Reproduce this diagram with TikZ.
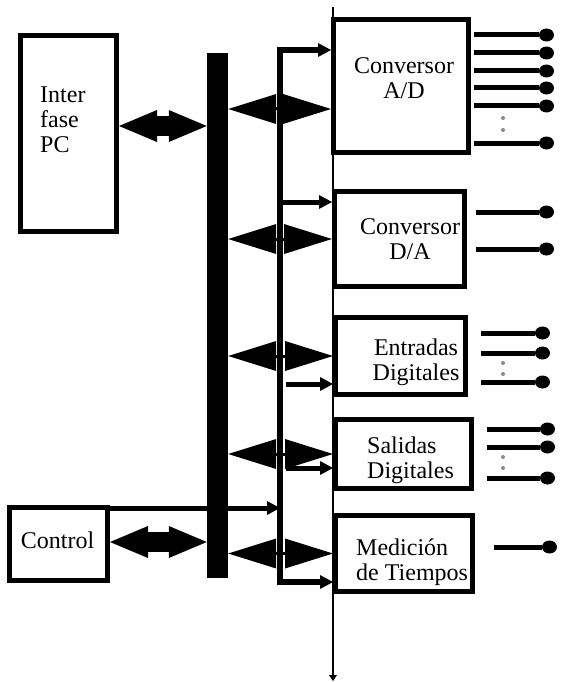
\documentclass[tikz,border=0pt]{standalone}
\usepackage{fontspec}
\setmainfont{Liberation Serif}
\usetikzlibrary{arrows.meta}
\definecolor{dotgray}{RGB}{140,140,140}

\begin{document}
\begin{tikzpicture}[x=1pt,y=-1pt]
	\tikzstyle{blk} = [draw,line width=5pt,fill=white,inner sep=0pt];
	\tikzstyle{txt} = [font=\fontsize{24}{25}\selectfont,inner sep=0pt];
	\tikzstyle{busbar} = [fill=black,inner sep=0pt,minimum width=21pt,minimum height=525pt];
	\tikzstyle{fat} = [line width=20pt,{Triangle[length=38pt,width=32pt,line width=0pt]}-{Triangle[length=38pt,width=32pt,line width=0pt]}];
	\tikzstyle{dbl} = [line width=3pt,{Triangle[length=48pt,width=30pt,line width=0pt]}-{Triangle[length=48pt,width=30pt,line width=0pt]}];
	\tikzstyle{sgl} = [line width=5pt,-{Triangle[length=13pt,width=14pt,line width=0pt]}];
	\tikzstyle{ctlline} = [line width=5.5pt,line join=miter,{Triangle[length=13pt,width=14pt,line width=0pt]}-{Triangle[length=13pt,width=14pt,line width=0pt]}];
	\tikzstyle{axis} = [line width=1.3pt,-{Triangle[length=6pt,width=8pt,line width=0pt]}];
	\tikzstyle{pin} = [line width=5pt,-{Circle[length=15pt,width=13pt,line width=0pt]}];
	\useasboundingbox [fill=white] (0,0) rectangle (560,682);
	% vertical axis
	\coordinate (atop) at (333,7);
	\coordinate (abot) at (333,681);
	\draw [axis] (atop) -- (abot);
	% blocks
	\node [blk,minimum width=96pt,minimum height=196pt] (pc) at (68.5,133.5) {};
	\node [blk,minimum width=98pt,minimum height=73pt] (ctl) at (58.5,544) {};
	\node [blk,minimum width=135pt,minimum height=133pt] (ad) at (401,86) {};
	\node [blk,minimum width=130pt,minimum height=95pt] (da) at (399.5,239) {};
	\node [blk,minimum width=130pt,minimum height=77pt] (ent) at (400.5,356) {};
	\node [blk,minimum width=136pt,minimum height=69pt] (sal) at (403.5,454) {};
	\node [blk,minimum width=137pt,minimum height=76pt] (med) at (404,553.5) {};
	\node [busbar] (bus) at (217.5,315.5) {};
	% texts
	\node [txt,align=left,anchor=west] (pctxt) at (40,120) {Inter\\fase\\PC};
	\node [txt] (ctltxt) at (57.5,540) {Control};
	\node [txt,align=center] (adtxt) at (404,78.6) {Conversor\\A/D};
	\node [txt,align=center] (datxt) at (410,239.6) {Conversor\\D/A};
	\node [txt,align=center] (enttxt) at (416,362) {Entradas\\Digitales};
	\node [txt,align=left,anchor=west] (saltxt) at (367,460) {Salidas\\Digitales};
	\node [txt,align=left,anchor=west] (medtxt) at (356,562) {Medici\'on\\ de Tiempos};
	% control line
	\coordinate (ctop) at (280,50);
	\coordinate (cbot) at (280,582);
	\draw [ctlline] (ad.west |- ctop) -- (ctop) -- (cbot) -- (med.west |- cbot);
	\coordinate (dain) at ([yshift=37pt]da.west);
	\draw [sgl] (ctop |- dain) -- (dain);
	\coordinate (entin) at ([yshift=-28pt]ent.west);
	\draw [sgl] ([xshift=-47pt]entin) -- (entin);
	\coordinate (salin) at ([yshift=-14pt]sal.west);
	\draw [sgl] ([xshift=-47pt]salin) -- (salin);
	\coordinate (ctlout) at ([yshift=-3pt]ctl.north east);
	\draw [sgl] (ctlout) -- (ctlout -| ctop);
	\node [busbar] at (bus) {};
	% data arrows
	\coordinate (pcout) at ([yshift=7.5pt]pc.east);
	\draw [fat] (pcout) -- (pcout -| bus.west);
	\draw [fat] ([yshift=2pt]ctl.east) -- ([yshift=2pt]ctl.east -| bus.west);
	\coordinate (adio) at ([yshift=-23pt]ad.west);
	\draw [dbl] (bus.east |- adio) -- (adio);
	\draw [dbl] (bus.east |- da.west) -- (da.west);
	\draw [dbl] (bus.east |- ent.west) -- (ent.west);
	\draw [dbl] (bus.east |- sal.west) -- (sal.west);
	\draw [dbl] (bus.east |- med.west) -- (med.west);
	% outputs
	\coordinate (rim) at (554,0);
	\coordinate (adout) at ([xshift=3pt]ad.east);
	\foreach \y in {35,53,71,88,106,143} \draw [pin] (adout |- 0,\y) -- (rim |- 0,\y);
	\coordinate (daout) at ([xshift=9pt]da.east);
	\foreach \y in {212,249} \draw [pin] (daout |- 0,\y) -- (rim |- 0,\y);
	\coordinate (entout) at ([xshift=13pt]ent.east);
	\foreach \y in {333,353,382} \draw [pin] (entout |- 0,\y) -- ([xshift=-4pt]rim |- 0,\y);
	\coordinate (salout) at ([xshift=13pt]sal.east);
	\foreach \y in {429,447,478} \draw [pin] (salout |- 0,\y) -- ([xshift=1pt]rim |- 0,\y);
	\coordinate (medout) at ([xshift=19pt]med.east);
	\draw [pin] (medout |- 0,547) -- ([xshift=3pt]rim |- 0,547);
	% gaps in the lists
	\foreach \x/\y in {503/118,503/130,503/363,503/374,503/457,503/468}
		\fill [dotgray] (\x,\y) circle [radius=2pt];
\end{tikzpicture}
\end{document}
